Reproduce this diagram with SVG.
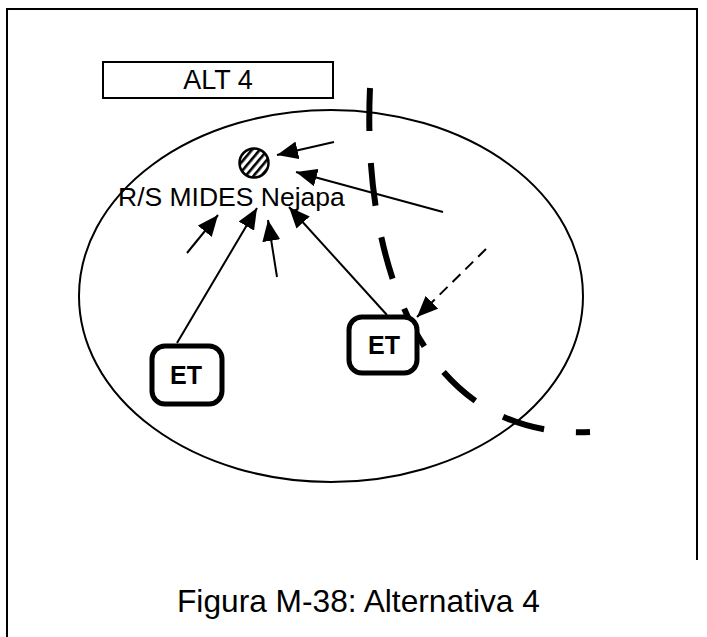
<svg xmlns="http://www.w3.org/2000/svg" width="707" height="637" viewBox="0 0 707 637">
  <style>
    .thin { fill: none; stroke: #000; stroke-width: 2; }
    .arrow { fill: none; stroke: #000; stroke-width: 2; marker-end: url(#head); }
    .dash-arrow { fill: none; stroke: #000; stroke-width: 2; stroke-dasharray: 11 7; marker-end: url(#head); }
    .boundary { fill: none; stroke: #000; stroke-width: 6; stroke-dasharray: 43 32; }
    .et-box { fill: #fff; stroke: #000; stroke-width: 5; }
    .et-text { font-family: "Liberation Sans", Arial, sans-serif; font-weight: bold; font-size: 25px; text-anchor: middle; fill: #000; }
    .label { font-family: "Liberation Sans", Arial, sans-serif; fill: #000; }
  </style>
  <defs>
    <marker id="head" markerUnits="userSpaceOnUse" markerWidth="24" markerHeight="18" refX="21" refY="9" orient="auto">
      <path d="M0,0 L21,9 L0,18 Z" fill="#000"/>
    </marker>
    <pattern id="hatch" width="6" height="6" patternUnits="userSpaceOnUse" patternTransform="rotate(40)">
      <rect width="6" height="6" fill="#fff"/>
      <rect width="2.6" height="6" fill="#000"/>
    </pattern>
  </defs>

  <rect width="707" height="637" fill="#fff"/>

  <g id="frame">
    <path class="thin" d="M7,637 L7,9 L697,9 L697,560" stroke-width="3"/>
  </g>

  <g id="alt-label">
    <rect x="103" y="62" width="230" height="36" fill="#fff" stroke="#000" stroke-width="2"/>
    <text class="label" x="218" y="89" font-size="27" text-anchor="middle">ALT 4</text>
  </g>

  <g id="area">
    <ellipse cx="331" cy="296" rx="252" ry="186" class="thin"/>
  </g>

  <g id="boundary">
    <path class="boundary" d="M370,88 C362,260 420,440 590,432"/>
  </g>

  <g id="connectors">
    <line class="arrow" x1="334" y1="142" x2="277" y2="155"/>
    <line class="arrow" x1="443" y1="212" x2="296" y2="172"/>
    <line class="arrow" x1="187" y1="253" x2="218" y2="215"/>
    <line class="arrow" x1="177" y1="343" x2="257" y2="208"/>
    <line class="arrow" x1="277" y1="277" x2="268" y2="220"/>
    <line class="arrow" x1="387" y1="315" x2="289" y2="207"/>
    <line class="dash-arrow" x1="486" y1="249" x2="417" y2="317"/>
  </g>

  <g id="rs-mides">
    <circle cx="254" cy="163" r="14.5" fill="url(#hatch)" stroke="#000" stroke-width="2.5"/>
    <text class="label" x="118" y="206" font-size="26.5">R/S MIDES Nejapa</text>
  </g>

  <g id="et-left">
    <rect class="et-box" x="152" y="346" width="70" height="58" rx="13"/>
    <text class="et-text" x="186" y="384">ET</text>
  </g>

  <g id="et-right">
    <rect class="et-box" x="349" y="317" width="68" height="56" rx="13"/>
    <text class="et-text" x="384" y="354">ET</text>
  </g>

  <g id="caption">
    <text class="label" x="177" y="612" font-size="31.7">Figura M-38: Alternativa 4</text>
  </g>
</svg>
